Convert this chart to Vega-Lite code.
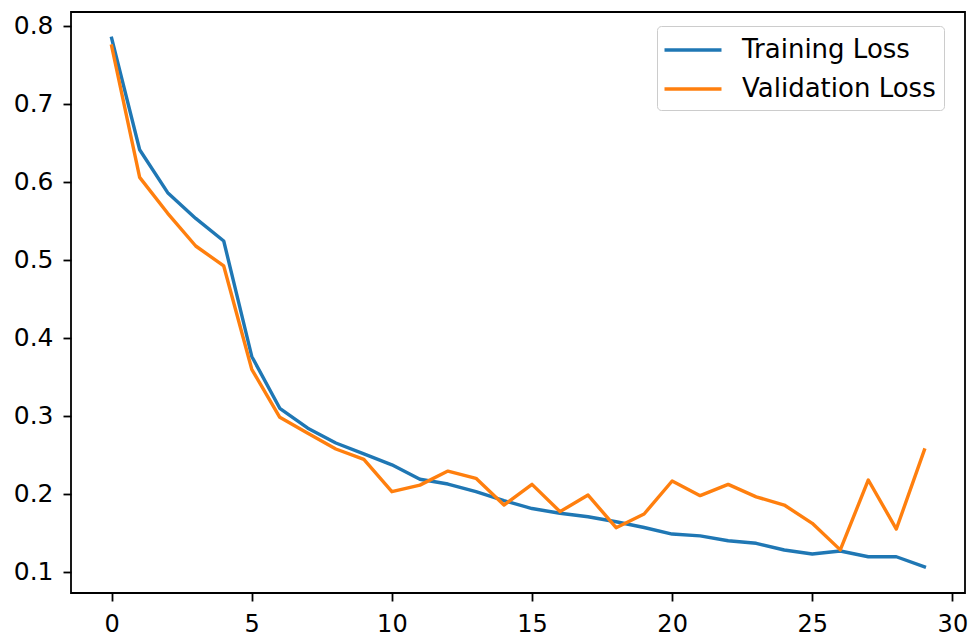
{
  "$schema": "https://vega.github.io/schema/vega-lite/v6.json",
  "autosize": "none",
  "width": 894,
  "height": 581,
  "padding": {"left": 71, "top": 12, "right": 5, "bottom": 44},
  "background": "white",
  "config": {
    "view": {"stroke": "#000000", "strokeWidth": 1.8},
    "font": "DejaVu Sans",
    "axis": {
      "domain": false,
      "grid": false,
      "ticks": true,
      "tickColor": "#000000",
      "tickWidth": 1.8,
      "tickSize": 8,
      "labelFont": "DejaVu Sans",
      "labelFontSize": 25,
      "labelColor": "#000000",
      "labelFlush": false,
      "title": null
    }
  },
  "data": {
    "values": [
      {"epoch": 0, "loss": 0.784, "series": "Training Loss"},
      {"epoch": 1, "loss": 0.641, "series": "Training Loss"},
      {"epoch": 2, "loss": 0.586, "series": "Training Loss"},
      {"epoch": 3, "loss": 0.553, "series": "Training Loss"},
      {"epoch": 4, "loss": 0.524, "series": "Training Loss"},
      {"epoch": 5, "loss": 0.376, "series": "Training Loss"},
      {"epoch": 6, "loss": 0.3095, "series": "Training Loss"},
      {"epoch": 7, "loss": 0.284, "series": "Training Loss"},
      {"epoch": 8, "loss": 0.265, "series": "Training Loss"},
      {"epoch": 9, "loss": 0.251, "series": "Training Loss"},
      {"epoch": 10, "loss": 0.237, "series": "Training Loss"},
      {"epoch": 11, "loss": 0.2185, "series": "Training Loss"},
      {"epoch": 12, "loss": 0.2124, "series": "Training Loss"},
      {"epoch": 13, "loss": 0.2026, "series": "Training Loss"},
      {"epoch": 14, "loss": 0.191, "series": "Training Loss"},
      {"epoch": 15, "loss": 0.181, "series": "Training Loss"},
      {"epoch": 16, "loss": 0.175, "series": "Training Loss"},
      {"epoch": 17, "loss": 0.1705, "series": "Training Loss"},
      {"epoch": 18, "loss": 0.164, "series": "Training Loss"},
      {"epoch": 19, "loss": 0.1567, "series": "Training Loss"},
      {"epoch": 20, "loss": 0.1483, "series": "Training Loss"},
      {"epoch": 21, "loss": 0.146, "series": "Training Loss"},
      {"epoch": 22, "loss": 0.1397, "series": "Training Loss"},
      {"epoch": 23, "loss": 0.1364, "series": "Training Loss"},
      {"epoch": 24, "loss": 0.1278, "series": "Training Loss"},
      {"epoch": 25, "loss": 0.1227, "series": "Training Loss"},
      {"epoch": 26, "loss": 0.1265, "series": "Training Loss"},
      {"epoch": 27, "loss": 0.1192, "series": "Training Loss"},
      {"epoch": 28, "loss": 0.1192, "series": "Training Loss"},
      {"epoch": 29, "loss": 0.1064, "series": "Training Loss"},
      {"epoch": 0, "loss": 0.774, "series": "Validation Loss"},
      {"epoch": 1, "loss": 0.6056, "series": "Validation Loss"},
      {"epoch": 2, "loss": 0.5595, "series": "Validation Loss"},
      {"epoch": 3, "loss": 0.5176, "series": "Validation Loss"},
      {"epoch": 4, "loss": 0.492, "series": "Validation Loss"},
      {"epoch": 5, "loss": 0.3595, "series": "Validation Loss"},
      {"epoch": 6, "loss": 0.298, "series": "Validation Loss"},
      {"epoch": 7, "loss": 0.2774, "series": "Validation Loss"},
      {"epoch": 8, "loss": 0.2573, "series": "Validation Loss"},
      {"epoch": 9, "loss": 0.244, "series": "Validation Loss"},
      {"epoch": 10, "loss": 0.2026, "series": "Validation Loss"},
      {"epoch": 11, "loss": 0.211, "series": "Validation Loss"},
      {"epoch": 12, "loss": 0.229, "series": "Validation Loss"},
      {"epoch": 13, "loss": 0.2197, "series": "Validation Loss"},
      {"epoch": 14, "loss": 0.1855, "series": "Validation Loss"},
      {"epoch": 15, "loss": 0.212, "series": "Validation Loss"},
      {"epoch": 16, "loss": 0.177, "series": "Validation Loss"},
      {"epoch": 17, "loss": 0.1983, "series": "Validation Loss"},
      {"epoch": 18, "loss": 0.1564, "series": "Validation Loss"},
      {"epoch": 19, "loss": 0.174, "series": "Validation Loss"},
      {"epoch": 20, "loss": 0.2163, "series": "Validation Loss"},
      {"epoch": 21, "loss": 0.1975, "series": "Validation Loss"},
      {"epoch": 22, "loss": 0.212, "series": "Validation Loss"},
      {"epoch": 23, "loss": 0.196, "series": "Validation Loss"},
      {"epoch": 24, "loss": 0.1855, "series": "Validation Loss"},
      {"epoch": 25, "loss": 0.162, "series": "Validation Loss"},
      {"epoch": 26, "loss": 0.128, "series": "Validation Loss"},
      {"epoch": 27, "loss": 0.2176, "series": "Validation Loss"},
      {"epoch": 28, "loss": 0.1547, "series": "Validation Loss"},
      {"epoch": 29, "loss": 0.256, "series": "Validation Loss"}
    ]
  },
  "mark": {"type": "line", "strokeWidth": 3.4, "strokeJoin": "round", "strokeCap": "square", "clip": true},
  "encoding": {
    "x": {
      "field": "epoch",
      "type": "quantitative",
      "scale": {"domain": [-1.45, 30.45], "nice": false, "zero": false},
      "axis": {"values": [0, 5, 10, 15, 20, 25, 30], "labelPadding": 11, "labelFontSize": 24}
    },
    "y": {
      "field": "loss",
      "type": "quantitative",
      "scale": {"domain": [0.0727, 0.8176], "nice": false, "zero": false},
      "axis": {"values": [0.1, 0.2, 0.3, 0.4, 0.5, 0.6, 0.7, 0.8], "format": ".1f", "labelPadding": 10}
    },
    "color": {
      "field": "series",
      "type": "nominal",
      "scale": {"domain": ["Training Loss", "Validation Loss"], "range": ["#1f77b4", "#ff7f0e"]},
      "legend": {
        "title": null,
        "orient": "none",
        "legendX": 586,
        "legendY": 14,
        "symbolType": "M-2,0H2",
        "symbolSize": 812,
        "symbolOffset": 12,
        "symbolStrokeWidth": 3.4,
        "labelFont": "DejaVu Sans",
        "labelFontSize": 26,
        "labelColor": "#000000",
        "labelOffset": 33,
        "rowPadding": 10,
        "padding": 8,
        "strokeColor": "#cccccc",
        "fillColor": "#ffffff",
        "cornerRadius": 4,
        "labelLimit": 400
      }
    }
  }
}
